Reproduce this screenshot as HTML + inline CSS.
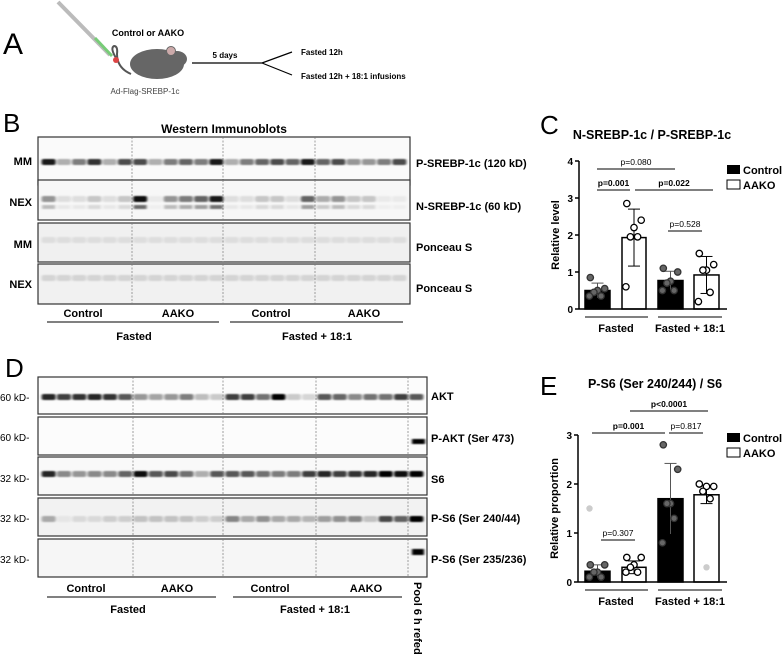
<!DOCTYPE html>
<html><head><meta charset="utf-8">
<style>
html,body{margin:0;padding:0;background:#fff;}
svg{display:block;font-family:"Liberation Sans",Arial,sans-serif;}
.b{font-weight:bold;}
</style></head>
<body>
<svg id="fig" width="784" height="655" viewBox="0 0 784 655" xmlns="http://www.w3.org/2000/svg">
<defs>
<filter id="blur" x="-20%" y="-100%" width="140%" height="300%"><feGaussianBlur stdDeviation="1.3 0.9"/></filter>
</defs>
<g>
<text x="3" y="54" font-size="30">A</text>
<line x1="58" y1="2" x2="110" y2="55" stroke="#bbb" stroke-width="4"/>
<line x1="95" y1="38" x2="112" y2="56" stroke="#7c7" stroke-width="3"/>
<path d="M116 58 q-6 -10 -2 -12 q4 0 3 8 q0 14 14 20" fill="none" stroke="#555" stroke-width="2"/>
<circle cx="116" cy="60" r="3" fill="#d44"/>
<ellipse cx="157" cy="64" rx="27" ry="15" fill="#666"/>
<ellipse cx="177" cy="59" rx="10" ry="8" fill="#666"/>
<circle cx="171" cy="51" r="4.5" fill="#caa" stroke="#666"/>
<text x="148" y="36" font-size="9" text-anchor="middle" class="b">Control or AAKO</text>
<text x="145" y="94" font-size="8" text-anchor="middle" fill="#444">Ad-Flag-SREBP-1c</text>
<path d="M192 63 H262 L292 52 M262 63 L292 75" fill="none" stroke="#000" stroke-width="1.2"/>
<text x="225" y="58" font-size="8" text-anchor="middle" class="b">5 days</text>
<text x="301" y="55" font-size="8" class="b">Fasted 12h</text>
<text x="301" y="79" font-size="8" class="b">Fasted 12h + 18:1 infusions</text>
</g>
<text x="3" y="132" font-size="26">B</text>
<text x="224" y="133" font-size="12" class="b" text-anchor="middle">Western Immunoblots</text>
<text x="540" y="134" font-size="26">C</text>
<text x="5" y="377" font-size="26">D</text>
<text x="540" y="395" font-size="26">E</text>
<g id="blots"></g>
<g id="chartC"></g>
<g id="chartE"></g>
</svg>
<script>
const NS="http://www.w3.org/2000/svg";
function mk(parent,tag,attrs,text){const e=document.createElementNS(NS,tag);for(const k in attrs)e.setAttribute(k,attrs[k]);if(text!==undefined)e.textContent=text;parent.appendChild(e);return e;}

const blots=document.getElementById('blots');
const bPSREBP=[.9,.3,.5,.8,.3,.7,.7,.3,.5,.6,.5,.9,.3,.5,.6,.7,.6,.9,.6,.7,.4,.4,.5,.7];
const bNSREBP=[.4,.1,.1,.2,.1,.2,.95,.05,.4,.5,.6,.9,.1,.1,.2,.2,.1,.6,.3,.4,.2,.2,.05,.05];
const bAKT=[.85,.75,.8,.85,.8,.65,.4,.35,.4,.5,.25,.2,.75,.75,.55,1,.2,.15,.65,.6,.45,.55,.55,.75,.65];
const bS6=[.85,.45,.4,.45,.45,.6,.95,.65,.7,.55,.3,.65,.65,.65,.55,.5,.5,.75,.85,.75,.8,.85,1,.95,1];
const bPS6=[.3,.05,.1,.1,.15,.15,.2,.2,.2,.2,.15,.15,.45,.3,.4,.3,.3,.25,.35,.4,.45,.2,.7,.6,1];
function blotPanel(x0,x1,y0,y1,name,nL,bandY,vals,bg,dashes){
  const g=mk(blots,'g',{});
  
  
  mk(g,'rect',{x:x0,y:y0,width:x1-x0,height:y1-y0,fill:bg,stroke:'#333','stroke-width':1.2});
  if(vals){vals.forEach((v,i)=>{const cx=x0+3+(i+0.5)*((x1-x0-6)/vals.length);
    mk(g,'rect',{x:cx-7,y:bandY-3,width:14,height:6,rx:2,fill:'#000','fill-opacity':v,filter:'url(#blur)'});});}
  dashes.forEach(d=>mk(g,'line',{x1:d,y1:y0,x2:d,y2:y1,stroke:'#777','stroke-width':0.7,'stroke-dasharray':'2,1.5'}));
  return g;
}
const dB=[132,223,315], dD=[133,223,316,408];
blotPanel(38,410,137,185,'blot-p-srebp',24,162,bPSREBP,'#fafafa',dB);
const g2=blotPanel(38,410,180,220,'blot-n-srebp',24,199,bNSREBP,'#f7f7f7',dB);
bNSREBP.forEach((v,i)=>{const cx=38+3+(i+0.5)*(366/24);mk(g2,'rect',{x:cx-6.5,y:205,width:13,height:4,fill:'#000','fill-opacity':v*0.6,filter:'url(#blur)'});});
blotPanel(38,410,223,262,'blot-ponceau-mm',24,240,bPSREBP.map(v=>0.08),'#f0f0f0',dB);
blotPanel(38,410,264,304,'blot-ponceau-nex',24,278,bPSREBP.map(v=>0.12),'#f1f1f1',dB);
blotPanel(38,427,377,414,'blot-akt',25,397,bAKT,'#fcfcfc',dD);
const gp=blotPanel(38,427,417,455,'blot-p-akt',25,440,null,'#fcfcfc',dD);
mk(gp,'rect',{x:412,y:439,width:13,height:5,fill:'#000',filter:'url(#blur)'});
blotPanel(38,427,457,495,'blot-s6',25,474,bS6,'#f9f9f9',dD);
blotPanel(38,427,498,536,'blot-p-s6-240',25,519,bPS6,'#f2f2f2',dD);
const gq=blotPanel(38,427,539,577,'blot-p-s6-235',25,552,null,'#f6f6f6',dD);
mk(gq,'rect',{x:412,y:549,width:12,height:6,fill:'#000',filter:'url(#blur)'});
[['MM',161],['NEX',202],['MM',244],['NEX',284]].forEach(l=>{const t=mk(blots,'text',{x:32,y:l[1]+4,'font-size':11,'font-weight':'bold','text-anchor':'end'},l[0]);
});
[['P-SREBP-1c (120 kD)',163],['N-SREBP-1c (60 kD)',206],['Ponceau S',247],['Ponceau S',288]].forEach(l=>{const t=mk(blots,'text',{x:416,y:l[1]+4,'font-size':11,'font-weight':'bold'},l[0]);
});
[397,437,478,518,559].forEach(y=>{const t=mk(blots,'text',{x:0,y:y+4,'font-size':10},(y<450?'60 kD-':'32 kD-'));
});
[['AKT',400],['P-AKT (Ser 473)',442],['S6',483],['P-S6 (Ser 240/44)',522],['P-S6 (Ser 235/236)',563]].forEach(l=>{const t=mk(blots,'text',{x:431,y:l[1],'font-size':11,'font-weight':'bold'},l[0]);
});
function groupLabels(yL,yU,yG,xs,u,gx){
  ['Control','AAKO','Control','AAKO'].forEach((s,i)=>{const t=mk(blots,'text',{x:xs[i],y:yL,'font-size':11,'font-weight':'bold','text-anchor':'middle'},s);
  });
  u.forEach(p=>mk(blots,'line',{x1:p[0],y1:yU,x2:p[1],y2:yU,stroke:'#000','stroke-width':1}));
  ['Fasted','Fasted + 18:1'].forEach((s,i)=>{const t=mk(blots,'text',{x:gx[i],y:yG,'font-size':11,'font-weight':'bold','text-anchor':'middle'},s);
  });
}
groupLabels(317,322,340,[83,178,271,364],[[47,219],[230,403]],[134,317]);
groupLabels(592,597,613,[86,177,270,366],[[47,216],[233,402]],[128,315]);
const pool=mk(blots,'text',{x:0,y:0,'font-size':11,'font-weight':'bold',transform:'translate(414,582) rotate(90)'},'Pool 6 h refed');


// ---------- Chart C ----------
const groupsC=['Control Fasted','AAKO Fasted','Control 18:1','AAKO 18:1'];
const meansC=[0.5,1.93,0.77,0.92];
const sdC=[0.2,0.77,0.25,0.5];
const pointsC=[[0.85,0.55,0.5,0.45,0.35,0.35],[2.85,2.4,2.2,1.95,1.95,0.6],[1.1,1.0,0.75,0.7,0.5,0.5],[1.5,1.2,1.05,1.05,0.45,0.2]];
const ticksC=[0,1,2,3,4];
// ---------- Chart E ----------
const meansE=[0.22,0.3,1.7,1.78];
const sdE=[0.13,0.13,0.72,0.18];
const pointsE=[[0.35,0.35,0.2,0.2,0.1,0.1],[0.5,0.5,0.35,0.3,0.2,0.2],[2.8,2.3,1.6,1.6,1.3,0.8],[2.0,1.95,1.95,1.85,1.7]];
const outliersE=[[1.5],[],[],[0.3]];
const ticksE=[0,1,2,3];

function drawChart(gid,o){
  const g=document.getElementById(gid);
  const y=v=>o.y0-(v/o.max)*(o.y0-o.yTop);
  const t=mk(g,'text',{x:o.tx,y:o.ty,'font-size':12.5,'font-weight':'bold','text-anchor':'middle'},o.title);
  
  const bx=[[585,610],[622,646],[658,683],[694,719]];
  o.means.forEach((m,i)=>{const cx=(bx[i][0]+bx[i][1])/2;
    const r=mk(g,'rect',{x:bx[i][0],y:y(m),width:bx[i][1]-bx[i][0],height:o.y0-y(m),fill:i%2?'#fff':'#000',stroke:'#000','stroke-width':1.5});
    
    mk(g,'line',{x1:cx,y1:y(m+o.sd[i]),x2:cx,y2:y(Math.max(m-o.sd[i],0)),stroke:i%2?'#000':'#555','stroke-width':1});
    mk(g,'line',{x1:cx-6,y1:y(m+o.sd[i]),x2:cx+6,y2:y(m+o.sd[i]),stroke:i%2?'#000':'#555','stroke-width':1});
    if(i%2)mk(g,'line',{x1:cx-6,y1:y(m-o.sd[i]),x2:cx+6,y2:y(m-o.sd[i]),stroke:'#000','stroke-width':1});
    o.pts[i].forEach((v,j)=>{const px=cx+[-8,8,0,-4,4,-9][j%6]*0.9;
      const c=mk(g,'circle',{cx:px,cy:y(v),r:3.2,fill:i%2?'#fff':'#666',stroke:i%2?'#000':'#333','stroke-width':1.3});
      });
    (o.out?o.out[i]:[]).forEach(v=>{const c=mk(g,'circle',{cx:cx-(i?0:8),cy:y(v),r:3.2,fill:'#ccc'});
      });
  });
  mk(g,'line',{x1:o.ax,y1:o.yTop,x2:o.ax,y2:o.y0,stroke:'#000','stroke-width':1.5});
  mk(g,'line',{x1:o.ax,y1:o.y0,x2:727,y2:o.y0,stroke:'#000','stroke-width':1.5});
  o.ticks.forEach(v=>{mk(g,'line',{x1:o.ax-4,y1:y(v),x2:o.ax,y2:y(v),stroke:'#000','stroke-width':1.5});
    const tl=mk(g,'text',{x:o.ax-6,y:y(v)+4,'font-size':10,'font-weight':'bold','text-anchor':'end'},String(v));
    });
  const yl=mk(g,'text',{x:0,y:0,'font-size':11,'font-weight':'bold','text-anchor':'middle',transform:`translate(${o.ax-20},${(o.y0+o.yTop)/2}) rotate(-90)`},o.ylab);
  
  mk(g,'line',{x1:585,y1:o.y0+8,x2:648,y2:o.y0+8,stroke:'#000'});
  mk(g,'line',{x1:658,y1:o.y0+8,x2:722,y2:o.y0+8,stroke:'#000'});
  [['Fasted',616],['Fasted + 18:1',690]].forEach(s=>{const c=mk(g,'text',{x:s[1],y:o.y0+23,'font-size':11,'font-weight':'bold','text-anchor':'middle'},s[0]);
    });
  o.pv.forEach(p=>{mk(g,'line',{x1:p[0],y1:p[2],x2:p[1],y2:p[2],stroke:'#000','stroke-width':1});
    const pt=mk(g,'text',{x:(p[0]+p[1])/2,y:p[2]-4,'font-size':8.5,'font-weight':p[4]?'bold':'normal','text-anchor':'middle'},p[3]);
    });
  const lg=mk(g,'g',{});
  
  mk(lg,'rect',{x:727,y:o.ly,width:13,height:9,fill:'#000'});
  mk(lg,'text',{x:743,y:o.ly+9,'font-size':11,'font-weight':'bold'},'Control');
  mk(lg,'rect',{x:727,y:o.ly+15,width:13,height:9,fill:'#fff',stroke:'#000'});
  mk(lg,'text',{x:743,y:o.ly+24,'font-size':11,'font-weight':'bold'},'AAKO');
}
drawChart('chartC',{title:'N-SREBP-1c / P-SREBP-1c',tx:652,ty:139,y0:309,yTop:161,max:4,ax:579,means:meansC,sd:sdC,pts:pointsC,ticks:ticksC,ylab:'Relative level',ly:165,
  pv:[[597,675,169,'p=0.080',0],[597,630,190,'p=0.001',1],[635,713,190,'p=0.022',1],[668,702,231,'p=0.528',0]]});
drawChart('chartE',{title:'P-S6 (Ser 240/244)  / S6',tx:655,ty:388,y0:582,yTop:435,max:3,ax:578,means:meansE,sd:sdE,pts:pointsE,out:outliersE,ticks:ticksE,ylab:'Relative proportion',ly:433,
  pv:[[630,708,411,'p<0.0001',1],[592,665,433,'p=0.001',1],[669,703,433,'p=0.817',0],[601,635,540,'p=0.307',0]]});
</script>
</body></html>
